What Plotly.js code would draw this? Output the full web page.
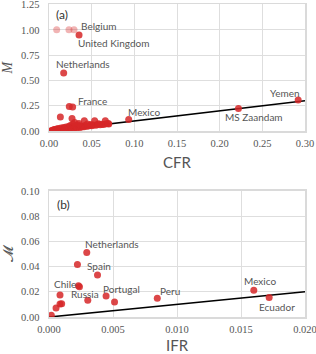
<!DOCTYPE html>
<html><head><meta charset="utf-8">
<script src="https://cdn.plot.ly/plotly-3.0.1.min.js"></script>
<style>html,body{margin:0;padding:0;background:#fff}#c{width:316px;height:354px}</style>
</head><body><div id="c"></div>
<script>
// Panel (a): CFR vs M
const cfrCluster = [0.002,0.003,0.004,0.005,0.006,0.006,0.007,0.008,0.008,0.009,0.010,0.010,0.011,0.012,0.013,0.014,0.015,0.016,0.017,0.018,0.019,0.020,0.021,0.022,0.023,0.024,0.025,0.026,0.027,0.028,0.029,0.030,0.031,0.032,0.033,0.034,0.035,0.036,0.037,0.038,0.040,0.041,0.042,0.044,0.046,0.048,0.050,0.052,0.055,0.057,0.060,0.062,0.064,0.067,0.070,
  0.0133,0.027,0.0414,0.0535,0.066,0.0695,0.049,0.058,0.035,0.030,0.045];
const mCluster = [0.002,0.001,0.005,0.010,0.003,0.012,0.015,0.008,0.002,0.020,0.005,0.012,0.025,0.010,0.018,0.030,0.008,0.022,0.035,0.015,0.028,0.040,0.020,0.010,0.045,0.030,0.055,0.035,0.020,0.070,0.045,0.030,0.055,0.040,0.032,0.060,0.045,0.036,0.050,0.040,0.045,0.042,0.055,0.048,0.050,0.055,0.052,0.060,0.058,0.065,0.062,0.068,0.066,0.072,0.070,
  0.138,0.125,0.102,0.102,0.102,0.075,0.065,0.072,0.075,0.085,0.070];
const cfrNamed = [0.0352,0.0172,0.0238,0.0277,0.0934,0.222,0.292];
const mNamed = [0.948,0.574,0.243,0.239,0.115,0.223,0.308];
const cfrCapped = [0.0090,0.0234,0.0293];
const mCapped = [1.0,1.0,1.0];
const labelsA = ["Belgium","United Kingdom","Netherlands","France","Mexico","MS Zaandam","Yemen"];
const labelAX = [0.0293,0.0352,0.0172,0.0277,0.0934,0.222,0.292];
const labelAY = [1.0,0.948,0.574,0.239,0.115,0.223,0.308];

// Panel (b): IFR vs M
const ifr = [0.00295,0.00222,0.00379,0.00230,0.00238,0.00086,0.00303,0.00446,0.00512,0.00846,0.0160,0.0172,0.00086,0.00099,0.00055,0.00018];
const mB = [0.0512,0.0416,0.0334,0.0249,0.0241,0.0175,0.0133,0.0167,0.0119,0.0149,0.0212,0.0154,0.0103,0.0106,0.0072,0.0013];
const labelsB = ["Netherlands","Spain","Chile","Russia","Portugal","Peru","Mexico","Ecuador"];
const labelBX = [0.00295,0.00222,0.00086,0.00303,0.00446,0.00846,0.0160,0.0172];
const labelBY = [0.0512,0.0416,0.0175,0.0133,0.0167,0.0149,0.0212,0.0154];

const lineA = [0,0.3], lineB = [0,0.02];

// label pixel offsets (style only)
const offA = [[5,4],[-3,-8],[-9.4,8.7],[3.4,5.7],[-2.7,7.3],[-15.7,-8.7],[-30.3,6.7]];
const offB = [[-3.9,8.8],[7.4,-1.1],[-8.3,11],[-18.6,6.2],[-4.9,6.7],[0.8,7.5],[-12,9.3],[-12.3,-9.7]];

const red = 'rgba(214,39,40,0.85)';
const mk = {color:red, size:7};
const traces = [
  {x:lineA,y:lineA,mode:'lines',line:{color:'#000',width:1.6},xaxis:'x',yaxis:'y',hoverinfo:'skip'},
  {x:cfrCluster,y:mCluster,mode:'markers',marker:mk,xaxis:'x',yaxis:'y'},
  {x:cfrNamed,y:mNamed,mode:'markers',marker:mk,xaxis:'x',yaxis:'y'},
  {x:cfrCapped,y:mCapped,mode:'markers',marker:{color:'rgba(214,39,40,0.35)',size:7},xaxis:'x',yaxis:'y'},
  {x:lineB,y:lineB,mode:'lines',line:{color:'#000',width:1.6},xaxis:'x2',yaxis:'y2',hoverinfo:'skip'},
  {x:ifr,y:mB,mode:'markers',marker:mk,xaxis:'x2',yaxis:'y2'}
];

const tickFont = {family:'Liberation Serif, DejaVu Serif, serif', size:10.5, color:'#555'};
const labFont = {family:'Lato, DejaVu Sans, sans-serif', size:10, color:'#555'};
const titleFont = {family:'Lato, DejaVu Sans, sans-serif', size:15, color:'#555'};
const ax = (o)=>Object.assign({showgrid:true,gridcolor:'#dedede',gridwidth:1,showline:true,mirror:true,linecolor:'#dadada',linewidth:1.5,zeroline:false,ticks:'',tickfont:tickFont,fixedrange:true,ticklabeloverflow:'allow'},o);

const ann = [];
labelsA.forEach((t,i)=>ann.push({x:labelAX[i],y:labelAY[i],xref:'x',yref:'y',text:t,showarrow:false,xanchor:'left',yanchor:'middle',xshift:offA[i][0],yshift:offA[i][1],font:labFont}));
labelsB.forEach((t,i)=>ann.push({x:labelBX[i],y:labelBY[i],xref:'x2',yref:'y2',text:t,showarrow:false,xanchor:'left',yanchor:'middle',xshift:offB[i][0],yshift:offB[i][1],font:labFont}));
ann.push({x:0.05,y:0.92,xref:'x domain',yref:'y domain',text:'(a)',showarrow:false,xanchor:'center',yanchor:'middle',font:{family:'Lato, DejaVu Sans, sans-serif',size:12,color:'#333'}});
ann.push({x:0.055,y:0.89,xref:'x2 domain',yref:'y2 domain',text:'(b)',showarrow:false,xanchor:'center',yanchor:'middle',font:{family:'Lato, DejaVu Sans, sans-serif',size:12,color:'#333'}});

const layout = {
  width:316,height:354,margin:{l:49,r:11,t:4,b:37},
  paper_bgcolor:'#fff',plot_bgcolor:'#fff',showlegend:false,
  xaxis:ax({domain:[0,1],range:[0,0.3],dtick:0.05,tickformat:'.2f',anchor:'y',ticklabelstandoff:2,title:{text:'CFR',font:titleFont,standoff:9}}),
  yaxis:ax({domain:[0.594,1],range:[0,1.255],dtick:0.25,tickformat:'.2f',anchor:'x',ticklabelstandoff:6,title:{text:'<i>M</i>',font:{family:'Liberation Serif, serif',size:14,color:'#555'},standoff:6}}),
  xaxis2:ax({domain:[0,1],range:[0,0.02],dtick:0.005,tickformat:'.3f',anchor:'y2',ticklabelstandoff:2,title:{text:'IFR',font:titleFont,standoff:9}}),
  yaxis2:ax({domain:[0,0.4026],range:[0,0.1],dtick:0.02,tickformat:'.2f',anchor:'x2',ticklabelstandoff:6,title:{text:'𝓜',font:{family:'DejaVu Serif, serif',size:14,color:'#555'},standoff:6}}),
  annotations:ann
};
Plotly.newPlot('c',traces,layout,{displayModeBar:false,staticPlot:true});
</script></body></html>
